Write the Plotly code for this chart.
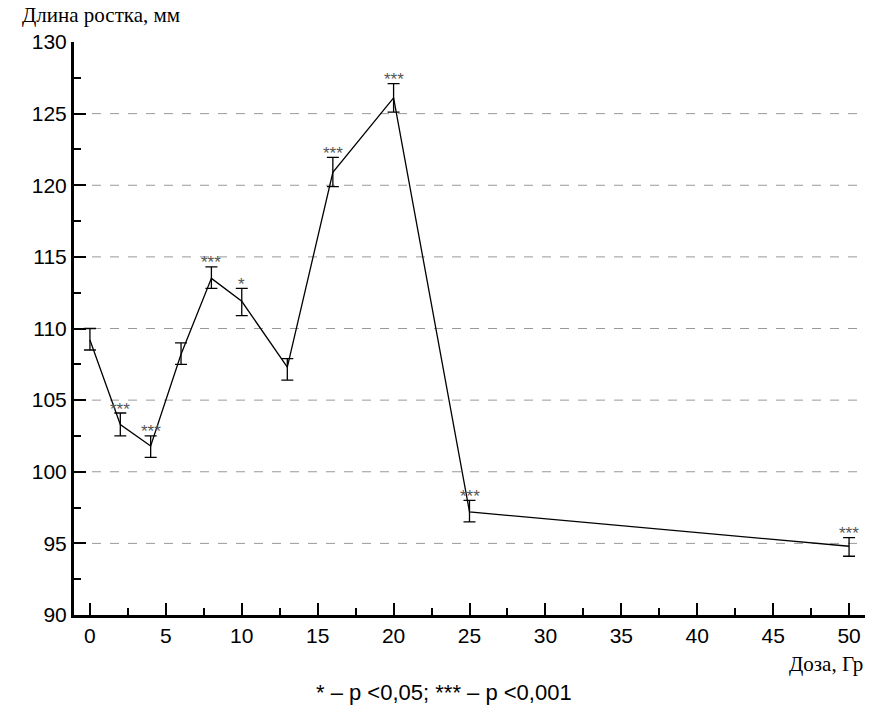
import plotly.graph_objects as go

dose = [0, 2, 4, 6, 8, 10, 13, 16, 20, 25, 50]
length = [109.2, 103.3, 101.8, 108.2, 113.5, 111.9, 107.3, 120.9, 126.1, 97.2, 94.8]
err_up = [110.0, 104.1, 102.5, 109.0, 114.3, 112.8, 107.9, 121.95, 127.1, 98.0, 95.4]
err_low = [108.5, 102.5, 101.0, 107.5, 112.8, 110.9, 106.4, 119.9, 125.1, 96.5, 94.1]
signif = ["", "***", "***", "", "***", "*", "", "***", "***", "***", "***"]
grid_vals = [95, 100, 105, 110, 115, 120, 125]
x_ticks = [0, 5, 10, 15, 20, 25, 30, 35, 40, 45, 50]
y_ticks = [90, 95, 100, 105, 110, 115, 120, 125, 130]

plus = [u - v for u, v in zip(err_up, length)]
minus = [v - l for v, l in zip(length, err_low)]

fig = go.Figure()
fig.add_trace(go.Scatter(
    x=dose, y=length, mode="lines",
    line=dict(color="black", width=1.3),
    error_y=dict(type="data", symmetric=False, array=plus, arrayminus=minus,
                 color="black", thickness=1.3, width=6),
    showlegend=False, hoverinfo="skip",
))

for g in grid_vals:
    fig.add_shape(type="line", xref="paper", x0=0, x1=1, yref="y", y0=g, y1=g,
                  line=dict(color="#999999", width=1, dash="dash"), layer="below")

for xd, top, s in zip(dose, err_up, signif):
    if s:
        fig.add_annotation(x=xd, y=top, text=s, showarrow=False,
                           yanchor="middle", yshift=4,
                           font=dict(family="Liberation Sans, Arial", size=17, color="#555555"))

fig.add_annotation(xref="paper", yref="paper", x=-0.068, y=1.0, yshift=27,
                   xanchor="left", yanchor="middle", showarrow=False,
                   text="Длина ростка, мм",
                   font=dict(family="Liberation Serif, Times New Roman", size=21, color="black"))
fig.add_annotation(xref="paper", yref="paper", x=1.0, y=0, yshift=-49,
                   xanchor="right", yanchor="middle", showarrow=False,
                   text="Доза, Гр",
                   font=dict(family="Liberation Serif, Times New Roman", size=21, color="black"))
fig.add_annotation(xref="paper", yref="paper", x=0.468, y=0, yshift=-77,
                   xanchor="center", yanchor="middle", showarrow=False,
                   text="* – p <0,05; *** – p <0,001",
                   font=dict(family="Liberation Sans, Arial", size=22, color="black"))

axis_font = dict(family="Liberation Sans, Arial", size=21, color="black")
fig.update_layout(
    width=893, height=708,
    margin=dict(l=74, r=28, t=42, b=93),
    paper_bgcolor="white", plot_bgcolor="white",
    xaxis=dict(range=[-1.05, 51.05], tickvals=x_ticks, ticks="inside", ticklen=12,
               tickwidth=2, tickcolor="black", showline=True, linewidth=3,
               linecolor="black", showgrid=False, zeroline=False,
               tickfont=axis_font,
               minor=dict(ticks="inside", ticklen=7, tickwidth=2, dtick=2.5,
                          tickcolor="black", showgrid=False)),
    yaxis=dict(range=[90, 130], tickvals=y_ticks, ticks="inside", ticklen=12,
               tickwidth=2, tickcolor="black", showline=True, linewidth=3,
               linecolor="black", showgrid=False, zeroline=False,
               tickfont=axis_font,
               minor=dict(ticks="inside", ticklen=7, tickwidth=2, dtick=2.5,
                          tickcolor="black", showgrid=False)),
)

fig.write_html("out.html", config={"displayModeBar": False},
               post_script="document.body.style.margin='0px';document.body.style.padding='0px';")
